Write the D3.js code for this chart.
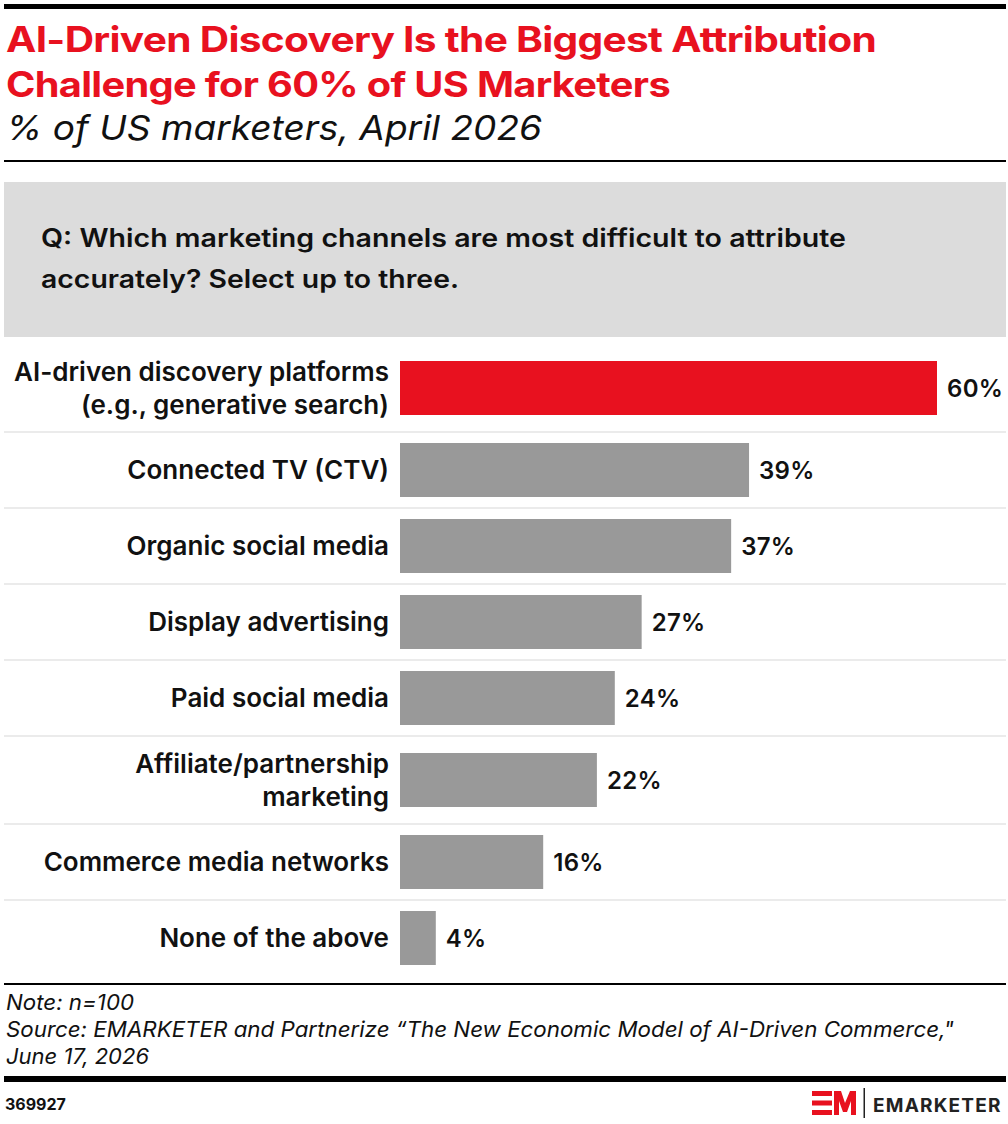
<!DOCTYPE html>
<html>
<head>
<meta charset="utf-8">
<script src="https://cdn.jsdelivr.net/npm/d3@7"></script>
<style>
  body { margin: 0; background: #fff; }
  svg { display: block; font-family: Inter, "Noto Sans", sans-serif; }
</style>
</head>
<body>
<svg id="chart" width="1008" height="1124"></svg>
<script>
// chart data
var categories = [
  ["AI-driven discovery platforms", "(e.g., generative search)"],
  ["Connected TV (CTV)"],
  ["Organic social media"],
  ["Display advertising"],
  ["Paid social media"],
  ["Affiliate/partnership", "marketing"],
  ["Commerce media networks"],
  ["None of the above"]
];
var values = [60, 39, 37, 27, 24, 22, 16, 4];
var highlight = [true, false, false, false, false, false, false, false];

var titleLines = ["AI-Driven Discovery Is the Biggest Attribution", "Challenge for 60% of US Marketers"];
var subtitle = "% of US marketers, April 2026";
var questionLines = ["Q: Which marketing channels are most difficult to attribute", "accurately? Select up to three."];
var noteLines = [
  "Note: n=100",
  "Source: EMARKETER and Partnerize \u201cThe New Economic Model of AI-Driven Commerce,\"",
  "June 17, 2026"
];
var chartId = "369927";

var svg = d3.select("#chart"),
  width = +svg.attr("width");

var red = "#e8111f", grey = "#999999";

// fit a text element to a target width
function fit(sel, w) {
  sel.each(function() {
    var cur = this.getComputedTextLength();
    if (Math.abs(cur - w) > 2) {
      d3.select(this).attr("textLength", w).attr("lengthAdjust", "spacingAndGlyphs");
    }
  });
}

// header
svg.append("rect").attr("x", 4).attr("y", 4).attr("width", 1002).attr("height", 5).attr("fill", "#000");

var titleW = [870, 664];
titleLines.forEach(function(t, i) {
  svg.append("text").attr("x", 6).attr("y", 52 + i * 45)
    .attr("font-size", 35).attr("font-weight", 700).attr("fill", red)
    .attr("letter-spacing", -0.6)
    .text(t).call(fit, titleW[i]);
});

svg.append("text").attr("x", 6).attr("y", 140)
  .attr("font-size", 34).attr("font-style", "italic").attr("font-weight", 400).attr("fill", "#111")
  .text(subtitle).call(fit, 536);

svg.append("rect").attr("x", 4).attr("y", 160).attr("width", 1002).attr("height", 2).attr("fill", "#000");

// question box
svg.append("rect").attr("x", 4).attr("y", 182).attr("width", 1002).attr("height", 155).attr("fill", "#dcdcdc");
var qW = [805, 418];
questionLines.forEach(function(t, i) {
  svg.append("text").attr("x", 41).attr("y", 247 + i * 41)
    .attr("font-size", 25).attr("font-weight", 600).attr("fill", "#111")
    .text(t).call(fit, qW[i]);
});

// rows: two-line labels get taller rows
var rowTop = 344, rowH = [];
categories.forEach(function(c) { rowH.push(c.length > 1 ? 88 : 76); });
var rows = [];
var acc = rowTop;
rowH.forEach(function(h, i) { rows.push({ y0: acc, h: h, i: i }); acc += h; });

var x = d3.scaleLinear().domain([0, 60]).range([400, 937]);

var g = svg.append("g");

// separators
g.selectAll("line.sep").data(rows.slice(1)).enter().append("line")
  .attr("x1", 4).attr("x2", 1006)
  .attr("y1", function(d) { return d.y0; }).attr("y2", function(d) { return d.y0; })
  .attr("stroke", "#ebebeb").attr("stroke-width", 2);

var barH = 54;
g.selectAll("rect.bar").data(rows).enter().append("rect")
  .attr("class", "bar")
  .attr("x", x(0))
  .attr("y", function(d) { return d.y0 + (d.h - barH) / 2; })
  .attr("width", function(d) { return x(values[d.i]) - x(0); })
  .attr("height", barH)
  .attr("fill", function(d) { return highlight[d.i] ? red : grey; });

g.selectAll("text.val").data(rows).enter().append("text")
  .attr("x", function(d) { return x(values[d.i]) + 10; })
  .attr("y", function(d) { return d.y0 + d.h / 2 + 8.5; })
  .attr("font-size", 24).attr("font-weight", 600).attr("fill", "#111")
  .attr("letter-spacing", 0.3)
  .text(function(d) { return values[d.i] + "%"; });

var labels = g.selectAll("text.lab").data(rows).enter().append("text")
  .attr("text-anchor", "end")
  .attr("font-size", 26).attr("font-weight", 600).attr("fill", "#111");
labels.each(function(d) {
  var lines = categories[d.i];
  var t = d3.select(this);
  var cy = d.y0 + d.h / 2;
  lines.forEach(function(l, j) {
    t.append("tspan").attr("x", 389)
      .attr("y", cy + 9 + (j - (lines.length - 1) / 2) * 33)
      .text(l);
  });
});

// bottom rule
svg.append("rect").attr("x", 4).attr("y", 983).attr("width", 1002).attr("height", 2).attr("fill", "#000");

// notes
var noteW = [128, 948, 143];
noteLines.forEach(function(t, i) {
  svg.append("text").attr("x", 6).attr("y", 1010 + i * 27)
    .attr("font-size", 21.5).attr("font-style", "italic").attr("fill", "#111")
    .text(t).call(fit, noteW[i]);
});

svg.append("rect").attr("x", 4).attr("y", 1076).attr("width", 1002).attr("height", 6).attr("fill", "#000");

svg.append("text").attr("x", 5).attr("y", 1110)
  .attr("font-size", 16).attr("font-weight", 700).attr("fill", "#111")
  .text(chartId);

// logo
var logo = svg.append("g");
[1091, 1100.5, 1110].forEach(function(yy) {
  logo.append("rect").attr("x", 812).attr("y", yy).attr("width", 20).attr("height", 5).attr("fill", red);
});
logo.append("path")
  .attr("d", "M834,1115 L834,1091 L841,1091 L845,1103 L850,1091 L856,1091 L856,1115 L851,1115 L851,1101 L847,1112 L843,1112 L839,1101 L839,1115 Z")
  .attr("fill", red);
logo.append("rect").attr("x", 863.5).attr("y", 1088).attr("width", 1.5).attr("height", 30).attr("fill", "#222");
logo.append("text").attr("x", 873).attr("y", 1112)
  .attr("font-size", 19).attr("font-weight", 700).attr("fill", "#222")
  .attr("letter-spacing", 1.2)
  .text("EMARKETER").call(fit, 130);
</script>
</body>
</html>
